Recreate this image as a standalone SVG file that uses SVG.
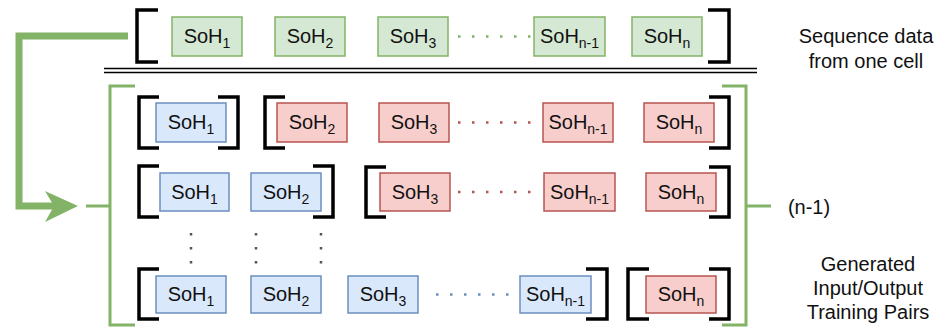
<svg xmlns="http://www.w3.org/2000/svg" width="945" height="327" viewBox="0 0 945 327">
<style>
.g{fill:#d5e8d4;stroke:#82b366;stroke-width:1.5}
.b{fill:#dae8fc;stroke:#6c8ebf;stroke-width:1.5}
.r{fill:#f8cecc;stroke:#b85450;stroke-width:1.5}
.t{font-family:"Liberation Sans",Arial,sans-serif;font-size:20px;fill:#111;text-anchor:middle}
.sub{font-size:14px}
.lbl{font-family:"Liberation Sans",Arial,sans-serif;font-size:20px;fill:#111;text-anchor:middle}
.br{fill:none;stroke:#000;stroke-width:3.5}
.gl{fill:none;stroke:#82b366;stroke-width:3}
.dot{fill:none;stroke-width:2.5;stroke-dasharray:2.5 11.5}
</style>
<rect width="945" height="327" fill="#fff"/>
<g id="connectors">
<path d="M128 36 H19 V206 H55" fill="none" stroke="#82b366" stroke-width="7"/>
<path d="M78 206 L45 191 L54 206 L45 222 Z" fill="#82b366"/>
<path class="gl" d="M135 86 H110 V325 H135"/>
<path class="gl" d="M86 206 H110"/>
<path class="gl" d="M722 86 H746 V325 H722"/>
<path class="gl" d="M746 206 H771"/>
<line x1="104" y1="68.5" x2="757" y2="68.5" stroke="#000" stroke-width="1.5"/>
<line x1="104" y1="72.5" x2="757" y2="72.5" stroke="#000" stroke-width="1.5"/>
<line class="dot" x1="458" y1="36.5" x2="532" y2="36.5" stroke="#82b366"/>
<line class="dot" x1="458" y1="122.5" x2="532" y2="122.5" stroke="#b85450"/>
<line class="dot" x1="458" y1="192" x2="532" y2="192" stroke="#b85450"/>
<line class="dot" x1="436" y1="294.5" x2="510" y2="294.5" stroke="#6c8ebf"/>
<line class="dot" x1="191" y1="233" x2="191" y2="264" stroke="#555"/>
<line class="dot" x1="256" y1="233" x2="256" y2="264" stroke="#555"/>
<line class="dot" x1="321" y1="233" x2="321" y2="264" stroke="#555"/>
</g>
<g id="brackets">
<path class="br" d="M158 10 H137 V62 H158"/>
<path class="br" d="M708 10 H729 V62 H708"/>
<path class="br" d="M159 97 H139 V148 H159"/>
<path class="br" d="M218 97 H238 V148 H218"/>
<path class="br" d="M285 97 H265 V148 H285"/>
<path class="br" d="M709 97 H729 V148 H709"/>
<path class="br" d="M159 166 H139 V217 H159"/>
<path class="br" d="M313 166 H333 V217 H313"/>
<path class="br" d="M386 167 H366 V217 H386"/>
<path class="br" d="M709 167 H729 V217 H709"/>
<path class="br" d="M159 269 H139 V319 H159"/>
<path class="br" d="M586 269 H607 V319 H586"/>
<path class="br" d="M649 269 H628 V319 H649"/>
<path class="br" d="M709 269 H729 V319 H709"/>
</g>
<g id="row0">
<g id="g1"><rect class="g" x="172" y="17" width="70" height="39"/><text class="t" x="207" y="43">SoH<tspan class="sub" dy="5">1</tspan></text></g>
<g id="g2"><rect class="g" x="275" y="17" width="70" height="39"/><text class="t" x="310" y="43">SoH<tspan class="sub" dy="5">2</tspan></text></g>
<g id="g3"><rect class="g" x="378" y="17" width="70" height="39"/><text class="t" x="413" y="43">SoH<tspan class="sub" dy="5">3</tspan></text></g>
<g id="gn1"><rect class="g" x="534" y="17" width="71" height="39"/><text class="t" x="569.5" y="43">SoH<tspan class="sub" dy="5">n-1</tspan></text></g>
<g id="gn"><rect class="g" x="632" y="17" width="70" height="39"/><text class="t" x="667" y="43">SoH<tspan class="sub" dy="5">n</tspan></text></g>
</g>
<g id="row1">
<g id="r1b1"><rect class="b" x="156" y="103" width="70" height="39"/><text class="t" x="191" y="129">SoH<tspan class="sub" dy="5">1</tspan></text></g>
<g id="r1r2"><rect class="r" x="277" y="103" width="70" height="39"/><text class="t" x="312" y="129">SoH<tspan class="sub" dy="5">2</tspan></text></g>
<g id="r1r3"><rect class="r" x="379" y="103" width="70" height="39"/><text class="t" x="414" y="129">SoH<tspan class="sub" dy="5">3</tspan></text></g>
<g id="r1rn1"><rect class="r" x="543" y="103" width="70" height="39"/><text class="t" x="578" y="129">SoH<tspan class="sub" dy="5">n-1</tspan></text></g>
<g id="r1rn"><rect class="r" x="644" y="103" width="70" height="39"/><text class="t" x="679" y="129">SoH<tspan class="sub" dy="5">n</tspan></text></g>
</g>
<g id="row2">
<g id="r2b1"><rect class="b" x="160" y="173" width="69" height="38"/><text class="t" x="194.5" y="198.5">SoH<tspan class="sub" dy="5">1</tspan></text></g>
<g id="r2b2"><rect class="b" x="251" y="173" width="70" height="38"/><text class="t" x="286" y="198.5">SoH<tspan class="sub" dy="5">2</tspan></text></g>
<g id="r2r3"><rect class="r" x="380" y="173" width="70" height="38"/><text class="t" x="415" y="198.5">SoH<tspan class="sub" dy="5">3</tspan></text></g>
<g id="r2rn1"><rect class="r" x="544" y="173" width="71" height="38"/><text class="t" x="579.5" y="198.5">SoH<tspan class="sub" dy="5">n-1</tspan></text></g>
<g id="r2rn"><rect class="r" x="646" y="173" width="70" height="38"/><text class="t" x="681" y="198.5">SoH<tspan class="sub" dy="5">n</tspan></text></g>
</g>
<g id="row3">
<g id="r3b1"><rect class="b" x="156" y="276" width="70" height="37"/><text class="t" x="191" y="301">SoH<tspan class="sub" dy="5">1</tspan></text></g>
<g id="r3b2"><rect class="b" x="251" y="276" width="70" height="37"/><text class="t" x="286" y="301">SoH<tspan class="sub" dy="5">2</tspan></text></g>
<g id="r3b3"><rect class="b" x="348" y="276" width="70" height="37"/><text class="t" x="383" y="301">SoH<tspan class="sub" dy="5">3</tspan></text></g>
<g id="r3bn1"><rect class="b" x="520" y="276" width="71" height="37"/><text class="t" x="555.5" y="301">SoH<tspan class="sub" dy="5">n-1</tspan></text></g>
<g id="r3rn"><rect class="r" x="646" y="276" width="70" height="37"/><text class="t" x="681" y="301">SoH<tspan class="sub" dy="5">n</tspan></text></g>
</g>
<g id="labels">
<text class="lbl" x="866" y="43">Sequence data</text>
<text class="lbl" x="866" y="68">from one cell</text>
<text class="lbl" x="809" y="214">(n-1)</text>
<text class="lbl" x="868" y="271">Generated</text>
<text class="lbl" x="868" y="295">Input/Output</text>
<text class="lbl" x="868" y="319">Training Pairs</text>
</g>
</svg>
